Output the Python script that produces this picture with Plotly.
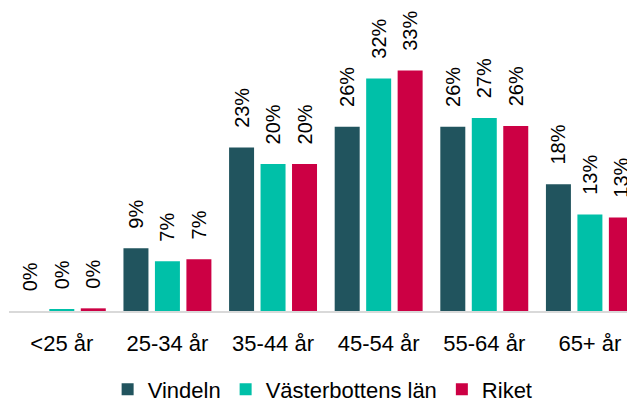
import plotly.graph_objects as go

categories = ["<25 år", "25-34 år", "35-44 år", "45-54 år", "55-64 år", "65+ år"]
vindeln = [0.0, 8.7, 22.7, 25.6, 25.6, 17.6]
vasterbotten = [0.28, 6.9, 20.4, 32.3, 26.8, 13.4]
riket = [0.37, 7.2, 20.4, 33.4, 25.7, 13.0]

series_names = ["Vindeln", "Västerbottens län", "Riket"]
series_values = [vindeln, vasterbotten, riket]
colors = ["#21545E", "#00C0A8", "#CC0044"]

FONT = "Liberation Sans, Arial, sans-serif"

fig = go.Figure()
for name, vals, c in zip(series_names, series_values, colors):
    fig.add_trace(go.Bar(
        x=categories, y=vals, name=name,
        marker=dict(color=c, line=dict(width=0)),
        texttemplate="\u00a0\u00a0\u00a0%{y:.0f}%",
        textposition="outside",
        textangle=-90,
        constraintext="none",
        cliponaxis=False,
        textfont=dict(family=FONT, size=20, color="#000000"),
        hoverinfo="skip",
    ))

# page body has an 8px margin, so the figure is sized to fit the window
fig.update_layout(
    width=627, height=395,
    margin=dict(l=0.5, r=0, t=0, b=92, autoexpand=False),
    paper_bgcolor="white", plot_bgcolor="white",
    barmode="group", bargap=0.106, bargroupgap=0.206,
    showlegend=True,
    legend=dict(orientation="h", x=0.501, xanchor="center",
                yref="container", y=0.034, yanchor="middle",
                font=dict(family=FONT, size=22, color="#000000"),
                traceorder="normal"),
    font=dict(family=FONT),
)
fig.update_xaxes(
    range=[-0.5, 5.427], showline=True, linecolor="#D9D9D9", linewidth=2,
    ticks="", showgrid=False, zeroline=False, automargin=False,
    tickfont=dict(family=FONT, size=22, color="#000000"),
    ticklabelstandoff=12,
)
fig.update_yaxes(range=[0, 42.08], visible=False, showgrid=False, zeroline=False,
                 automargin=False)

fig.write_html("out.html")
